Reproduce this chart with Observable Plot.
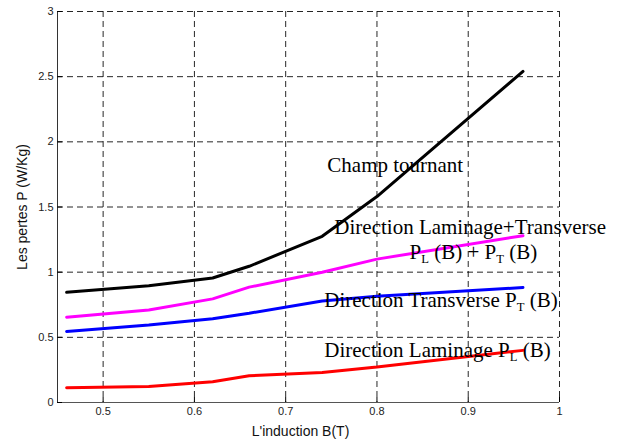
<!DOCTYPE html>
<html>
<head>
<meta charset="utf-8">
<script src="https://cdn.jsdelivr.net/npm/d3@7"></script>
<script src="https://cdn.jsdelivr.net/npm/@observablehq/plot@0.6"></script>
<style>
html, body { margin: 0; padding: 0; background: #fff; }
</style>
</head>
<body>
<div id="chart"></div>
<script>
// Induction B (T)
const B = [0.46, 0.55, 0.62, 0.66, 0.74, 0.80, 0.96];
// Losses P (W/Kg)
const champTournant      = [0.845, 0.895, 0.955, 1.045, 1.275, 1.58, 2.54];
const laminageTransverse = [0.655, 0.710, 0.795, 0.885, 1.000, 1.10, 1.28];
const transverse         = [0.545, 0.595, 0.643, 0.685, 0.778, 0.815, 0.882];
const laminage           = [0.113, 0.123, 0.160, 0.205, 0.230, 0.272, 0.400];

const seriesNames  = ["Champ tournant", "Laminage+Transverse", "Transverse", "Laminage"];
const seriesValues = [champTournant, laminageTransverse, transverse, laminage];
const seriesColors = ["#000000", "#ff00ff", "#0000ff", "#ff0000"];

const xTicks = [0.5, 0.6, 0.7, 0.8, 0.9, 1];
const yTicks = [0, 0.5, 1, 1.5, 2, 2.5, 3];
const xDomain = [0.45, 1];
const yDomain = [0, 3];

const xTitle = "L'induction B(T)";
const yTitle = "Les pertes P (W/Kg)";

// In-plot annotations (data coordinates)
const labelTexts = [
  "Champ tournant",
  "Direction Laminage+Transverse",
  "P_L (B) + P_T (B)",
  "Direction Transverse P_T (B)",
  "Direction Laminage P_L (B)"
];
const labelB = [0.7456, 0.7533, 0.8357, 0.7423, 0.7423];
const labelP = [1.823, 1.346, 1.154, 0.785, 0.400];

const rows = [];
seriesValues.forEach((vals, i) => vals.forEach((v, j) => rows.push({series: seriesNames[i], B: B[j], P: v})));
const labelRows = labelTexts.map((t, i) => ({text: t, B: labelB[i], P: labelP[i]}));

const W = 622, H = 443, mL = 57, mR = 63, mT = 11, mB = 41;
const serif = "'Liberation Serif', 'Times New Roman', serif";

const chart = Plot.plot({
  width: W, height: H,
  marginLeft: mL, marginRight: mR, marginTop: mT, marginBottom: mB,
  style: {background: "#fff", fontFamily: "'Liberation Sans', Arial, sans-serif", fontSize: "11px", color: "#000"},
  x: {domain: xDomain},
  y: {domain: yDomain},
  color: {domain: seriesNames, range: seriesColors},
  marks: [
    Plot.gridX(xTicks, {stroke: "#000", strokeOpacity: 0.85, strokeDasharray: "6,4"}),
    Plot.gridY(yTicks, {stroke: "#000", strokeOpacity: 0.85, strokeDasharray: "6,4"}),
    Plot.ruleX([xDomain[0]], {stroke: "#333"}),
    Plot.ruleY([yDomain[0]], {stroke: "#555"}),
    Plot.tickX(xTicks, {x: d => d, insetTop: H - mT - mB - 5, stroke: "#000"}),
    Plot.tickY(yTicks, {y: d => d, insetRight: W - mL - mR - 5, stroke: "#000"}),
    Plot.axisX(xTicks, {tickSize: 0, tickPadding: 5, tickFormat: d => String(d), label: null, fill: "#222"}),
    Plot.axisY(yTicks, {tickSize: 0, tickPadding: 4, tickFormat: d => String(d), label: null, fill: "#222"}),
    Plot.line(rows, {x: "B", y: "P", z: "series", stroke: "series", strokeWidth: 3, strokeLinejoin: "miter"}),
    Plot.text([xTitle], {text: d => d, frameAnchor: "bottom", textAnchor: "middle", lineAnchor: "middle", dy: 29, dx: -8, fontSize: 14, fill: "#111"}),
    Plot.text([yTitle], {text: d => d, frameAnchor: "left", textAnchor: "middle", lineAnchor: "middle", rotate: -90, dx: -35, fontSize: 14, fill: "#111"}),
    Plot.text(labelRows, {x: "B", y: "P", text: "text", textAnchor: "start", fontFamily: serif, fontSize: 21, fill: "#000"})
  ]
});

// Render "_X" as subscripts
const NS = "http://www.w3.org/2000/svg";
chart.querySelectorAll("text").forEach(t => {
  const s = t.textContent;
  if (!s.includes("_")) return;
  const parts = s.split(/_(\w)/);
  t.textContent = "";
  parts.forEach((p, i) => {
    const ts = document.createElementNS(NS, "tspan");
    ts.textContent = p;
    if (i % 2 === 1) { ts.setAttribute("font-size", "12.6"); ts.setAttribute("dy", "4"); }
    else if (i > 0) { ts.setAttribute("dy", "-4"); }
    t.appendChild(ts);
  });
});

document.getElementById("chart").appendChild(chart);
</script>
</body>
</html>
